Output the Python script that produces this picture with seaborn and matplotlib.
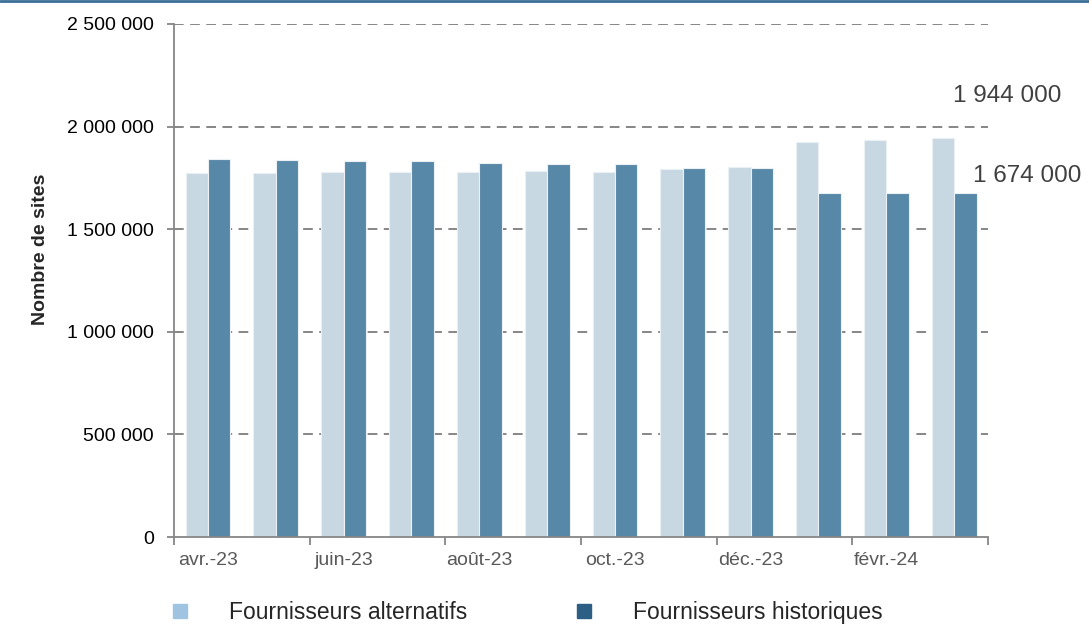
import seaborn as sns
import pandas as pd
import numpy as np
from matplotlib import pyplot as plt
from matplotlib.lines import Line2D
from matplotlib.ticker import FuncFormatter, FixedLocator

sns.set_style("white")
plt.rcParams['font.family'] = ['Liberation Sans', 'DejaVu Sans']

months = ["avr.-23", "mai-23", "juin-23", "juil.-23", "août-23", "sept.-23",
          "oct.-23", "nov.-23", "déc.-23", "janv.-24", "févr.-24", "mars-24"]
alternatifs = [1775000, 1776000, 1779000, 1781000, 1781000, 1784000,
               1781000, 1794000, 1804000, 1927000, 1935000, 1944000]
historiques = [1843000, 1838000, 1834000, 1830000, 1825000, 1820000,
               1818000, 1800000, 1796000, 1677000, 1677000, 1674000]
series = ["Fournisseurs alternatifs", "Fournisseurs historiques"]

bar_colors = ["#C7D8E3", "#5888A7"]
legend_colors = ["#9FC4E2", "#2D5F85"]

df = pd.DataFrame({
    "Mois": months * 2,
    "Sites": alternatifs + historiques,
    "Type": [series[0]] * len(months) + [series[1]] * len(months),
})

fig = plt.figure(figsize=(10.89, 6.25), dpi=100)
ax = fig.add_axes([0.1598, 0.1408, 0.7475, 0.8208])

sns.barplot(data=df, x="Mois", y="Sites", hue="Type", palette=bar_colors, saturation=1,
            width=0.66, edgecolor="#EAF0F4", linewidth=0.8, legend=False, ax=ax)

ax.set_xlim(-0.5, len(months) - 0.5)
ax.set_ylim(0, 2500000)
ax.yaxis.set_major_locator(FixedLocator(np.arange(0, 2500001, 500000)))
ax.yaxis.set_major_formatter(FuncFormatter(lambda v, p: f"{v:,.0f}".replace(",", " ")))

# dashed gridlines
for v in np.arange(500000, 2500001, 500000):
    ax.axhline(v, color="#868686", linestyle=(0, (5, 3.3)), linewidth=1.4, zorder=0)

# tick marks at group boundaries, labels every other month
ax.set_xticks(np.arange(-0.5, len(months), 2))
ax.set_xticklabels([])
ax.set_xticks(np.arange(0, len(months), 2), minor=True)
ax.set_xticklabels(months[::2], minor=True, color="#595959", fontsize=14)
ax.tick_params(axis="x", which="major", direction="out", length=6, width=1.3,
               color="#868686", bottom=True)
ax.tick_params(axis="x", which="minor", length=0, pad=10.5)
ax.tick_params(axis="y", direction="out", length=5, width=1.3, color="#868686",
               left=True, labelsize=14, pad=9.5)
for lbl in ax.get_yticklabels():
    lbl.set_color("black")

for side in ["top", "right"]:
    ax.spines[side].set_visible(False)
for side in ["left", "bottom"]:
    ax.spines[side].set_color("#868686")
    ax.spines[side].set_linewidth(1.3)

ax.set_xlabel("")
ax.set_ylabel("Nombre de sites", fontsize=14, fontweight="bold")
ax.yaxis.set_label_coords(-0.1536, 0.56)

# end-of-series value labels
ax.annotate(f"{alternatifs[-1]:,}".replace(",", " "), xy=(len(months) - 1, alternatifs[-1]),
            xytext=(-0.7, 26), textcoords="offset points", fontsize=17.5,
            color="#404040", annotation_clip=False)
ax.annotate(f"{historiques[-1]:,}".replace(",", " "), xy=(len(months) - 1, historiques[-1]),
            xytext=(13.7, 8.5), textcoords="offset points", fontsize=17.5,
            color="#404040", annotation_clip=False)

handles = [Line2D([], [], marker="s", linestyle="", markersize=9.5, color=c)
           for c in legend_colors]
fig.legend(handles, series, loc="lower left", bbox_to_anchor=(0.1252, -0.031), ncol=2,
           frameon=False, fontsize=16.5, handletextpad=1.15, columnspacing=4.09)

fig.add_artist(Line2D([0, 1], [0.998, 0.998], color="#3B6F98", linewidth=2))

plt.savefig("out.png", dpi=100)
